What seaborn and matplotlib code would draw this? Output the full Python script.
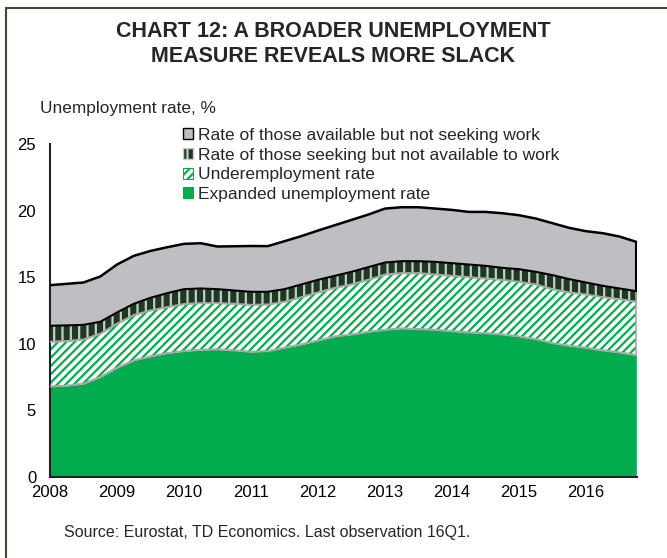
import numpy as np
import pandas as pd
import matplotlib
matplotlib.use("Agg")
import matplotlib.pyplot as plt
import seaborn as sns
from matplotlib.patches import Patch
from matplotlib.lines import Line2D

# Quarterly observations
quarters = pd.period_range("2008Q1", "2016Q4", freq="Q")

# Components of the broader unemployment measure, % of labour force
expanded_unemployment = [6.80, 6.85, 7.00, 7.50, 8.20, 8.75, 9.05, 9.30, 9.45, 9.55,
                         9.58, 9.50, 9.40, 9.45, 9.70, 9.95, 10.25, 10.55, 10.70, 10.90,
                         11.05, 11.15, 11.10, 11.05, 10.95, 10.85, 10.80, 10.70, 10.55, 10.35,
                         10.05, 9.85, 9.70, 9.50, 9.35, 9.15]
underemployment = [3.35, 3.35, 3.32, 3.25, 3.30, 3.40, 3.45, 3.45, 3.53, 3.50,
                   3.47, 3.50, 3.52, 3.50, 3.45, 3.55, 3.60, 3.65, 3.75, 3.90,
                   4.15, 4.15, 4.20, 4.15, 4.15, 4.15, 4.10, 4.10, 4.10, 4.10,
                   4.05, 4.00, 4.00, 4.00, 4.00, 4.00]
seeking_not_available = [1.20, 1.18, 1.10, 0.90, 0.85, 0.85, 0.95, 1.05, 1.12, 1.10,
                         1.05, 1.00, 0.98, 0.95, 0.95, 0.95, 0.95, 0.90, 0.95, 0.95,
                         0.90, 0.90, 0.90, 0.95, 0.95, 0.95, 0.95, 0.90, 0.95, 0.95,
                         1.05, 1.00, 0.90, 0.85, 0.80, 0.80]
available_not_seeking = [3.05, 3.12, 3.18, 3.40, 3.60, 3.60, 3.52, 3.45, 3.40, 3.40,
                         3.20, 3.32, 3.44, 3.43, 3.60, 3.63, 3.70, 3.80, 3.90, 3.95,
                         4.05, 4.05, 4.05, 4.00, 4.00, 3.95, 4.05, 4.10, 4.05, 4.00,
                         3.90, 3.85, 3.85, 3.95, 3.90, 3.70]

year_ticks = [2008, 2009, 2010, 2011, 2012, 2013, 2014, 2015, 2016]
y_ticks = [0, 5, 10, 15, 20, 25]

labels = ["Rate of those available but not seeking work",
          "Rate of those seeking but not available to work",
          "Underemployment rate",
          "Expanded unemployment rate"]

sns.set_theme(style="white")
plt.rcParams["font.family"] = ["Liberation Sans", "DejaVu Sans"]
plt.rcParams["hatch.linewidth"] = 1.6

df = pd.DataFrame({
    "x": quarters.year + (quarters.quarter - 1) / 4.0,
    "expanded": expanded_unemployment,
    "under": underemployment,
    "seeking": seeking_not_available,
    "available": available_not_seeking,
})
df["c1"] = df["expanded"]
df["c2"] = df["c1"] + df["under"]
df["c3"] = df["c2"] + df["seeking"]
df["c4"] = df["c3"] + df["available"]

GREEN = "#00AC4E"
DARK = "#1C3A22"
GREY = "#BFBEC3"
EDGE = "#A8A8A8"
STRIPE = "#C9C9C9"

fig = plt.figure(figsize=(6.67, 5.58), dpi=100)
ax = fig.add_axes([0.075, 0.1452, 0.88, 0.5968])

x = df["x"].to_numpy()
ax.fill_between(x, 0, df["c1"], facecolor=GREEN, lw=0, zorder=1)
ax.fill_between(x, df["c1"], df["c2"], facecolor="white", lw=0, zorder=1)
ax.fill_between(x, df["c1"], df["c2"], facecolor="none", edgecolor=GREEN,
                hatch="////", lw=0, zorder=1.1)
ax.fill_between(x, df["c2"], df["c3"], facecolor=DARK, lw=0, zorder=1)
ax.fill_between(x, df["c2"], df["c3"], facecolor="none", edgecolor=STRIPE,
                hatch="||", lw=0, zorder=1.1)
ax.fill_between(x, df["c3"], df["c4"], facecolor=GREY, lw=0, zorder=1)

# Boundary lines between the stacked layers
sns.lineplot(data=df, x="x", y="c1", ax=ax, color=EDGE, lw=1.5, zorder=3)
sns.lineplot(data=df, x="x", y="c2", ax=ax, color=EDGE, lw=1.5, zorder=3)
sns.lineplot(data=df, x="x", y="c3", ax=ax, color="black", lw=1.5, zorder=3)
sns.lineplot(data=df, x="x", y="c4", ax=ax, color="black", lw=1.8, zorder=3)
ax.vlines(x[-1], df["c3"].iloc[-1], df["c4"].iloc[-1], color="black", lw=1.5, zorder=3)
ax.vlines(x[-1], df["c1"].iloc[-1], df["c3"].iloc[-1], color=EDGE, lw=1.2, zorder=2)

ax.set_xlim(2008, x[-1] + 0.01)
ax.set_ylim(0, 25)
ax.set_xticks(year_ticks)
ax.set_xticklabels([str(y) for y in year_ticks])
ax.set_yticks(y_ticks)
ax.set_xlabel("")
ax.set_ylabel("")
ax.tick_params(axis="y", length=0, pad=10, labelsize=12, colors="black")
ax.tick_params(axis="x", length=0, pad=6, labelsize=12, colors="black")
for side in ["top", "right"]:
    ax.spines[side].set_visible(False)
for side in ["left", "bottom"]:
    ax.spines[side].set_color("#222222")
    ax.spines[side].set_linewidth(1.5)
ax.set_facecolor("white")

handles = [
    Patch(facecolor=GREY, edgecolor="black", lw=1.0),
    Patch(facecolor=DARK, edgecolor=STRIPE, hatch="||", lw=1.0),
    Patch(facecolor="white", edgecolor=GREEN, hatch="////", lw=0.8),
    Patch(facecolor=GREEN, edgecolor=GREEN, lw=0.8),
]
fig.legend(handles, labels, loc="upper left", bbox_to_anchor=(183 / 667, 1 - 128 / 558),
           frameon=False, fontsize=12.5, handlelength=0.6, handleheight=0.6,
           handletextpad=0.25, labelspacing=0.27, borderaxespad=0, borderpad=0)

fig.text(0.5, 1 - 44 / 558, "CHART 12: A BROADER UNEMPLOYMENT\nMEASURE REVEALS MORE SLACK",
         ha="center", va="center", fontsize=15.5, fontweight="bold",
         family=["Liberation Sans Narrow", "Liberation Sans"], linespacing=1.3)
fig.text(40 / 667, 1 - 108 / 558, "Unemployment rate, %", ha="left", va="center",
         fontsize=12.4)
fig.text(64 / 667, 1 - 533 / 558, "Source: Eurostat, TD Economics. Last observation 16Q1.",
         ha="left", va="center", fontsize=11.5)

# Border around the chart panel
frame_color = "#3B4A32"
fig.add_artist(Line2D([6 / 667, 6 / 667], [0, 1 - 8 / 558], transform=fig.transFigure,
                      color=frame_color, lw=1.5))
fig.add_artist(Line2D([6 / 667, 1], [1 - 8 / 558, 1 - 8 / 558], transform=fig.transFigure,
                      color=frame_color, lw=1.5))

fig.savefig("out.png", dpi=100)
